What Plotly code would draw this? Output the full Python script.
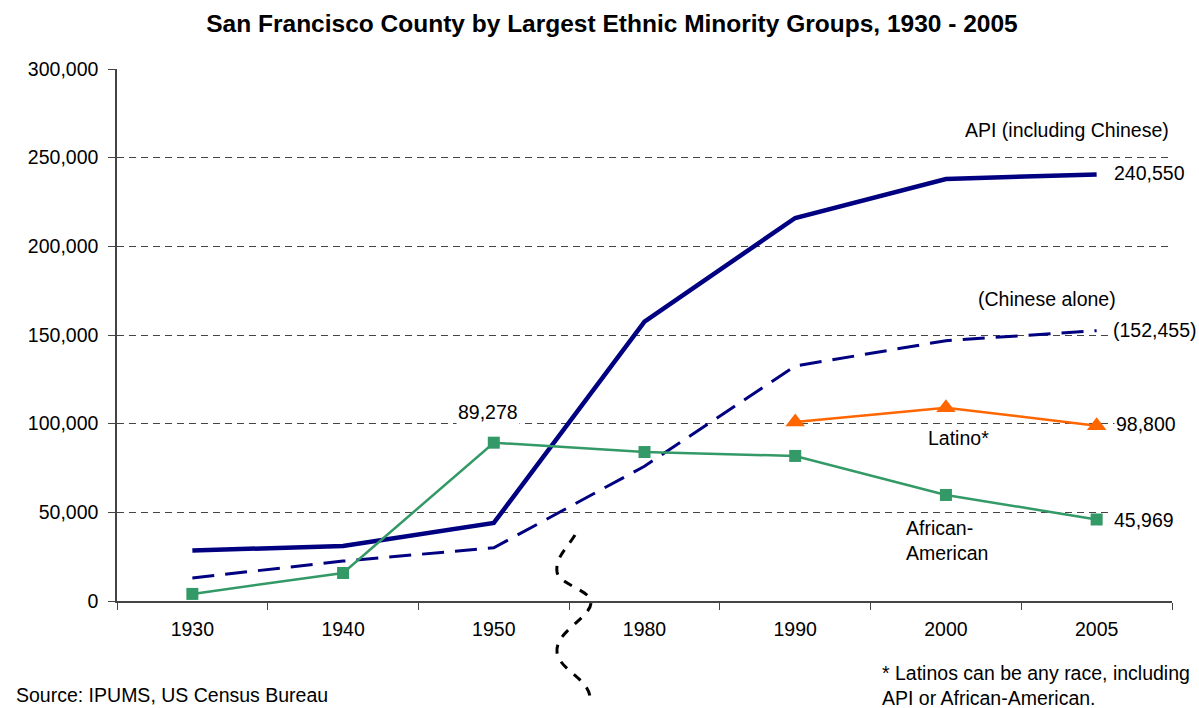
import plotly.graph_objects as go

years = ["1930", "1940", "1950", "1980", "1990", "2000", "2005"]
api = [28500, 31000, 44000, 157500, 216000, 238000, 240550]
chinese = [13000, 22500, 30000, 76000, 132500, 146800, 152455]
african_american = [4000, 15800, 89278, 84000, 81800, 59800, 45969]
latino_years = ["1990", "2000", "2005"]
latino = [100900, 109000, 98800]
y_ticks = [0, 50000, 100000, 150000, 200000, 250000, 300000]

W, H = 1199, 708
L, R, T, B = 117, 27, 69, 107
PW, PH = W - L - R, H - T - B

def px(x):
    return (x - L) / PW

def py(y):
    return (H - B - y) / PH

font = "Liberation Sans, Arial, sans-serif"
FS = 19.5

fig = go.Figure()
fig.add_trace(go.Scatter(x=years, y=api, mode="lines", line=dict(color="#000080", width=4.5), name="API"))
fig.add_trace(go.Scatter(x=years, y=chinese, mode="lines", line=dict(color="#000080", width=3, dash="22px,11px"), name="Chinese"))
fig.add_trace(go.Scatter(x=years, y=african_american, mode="lines+markers",
                         line=dict(color="#339966", width=2.5),
                         marker=dict(symbol="square", size=12, color="#339966"), name="African-American"))
fig.add_trace(go.Scatter(x=latino_years, y=latino, mode="lines+markers",
                         line=dict(color="#FF6600", width=2.5),
                         marker=dict(symbol="triangle-up", size=17, color="#FF6600"), name="Latino"))

# wavy axis-break symbol (decorative)
start = (575, 535)
segments = [
    [(567, 548), (555, 558), (557, 572)],
    [(559, 585), (592, 590), (591, 603)],
    [(590, 618), (555, 632), (557, 652)],
    [(559, 670), (588, 678), (590, 697)],
]
path = "M {},{}".format(px(start[0]), py(start[1]))
for seg in segments:
    path += " C " + " ".join("{},{}".format(px(a), py(b)) for a, b in seg)
fig.add_shape(type="path", path=path, xref="paper", yref="paper",
              line=dict(color="black", width=3, dash="dash"), layer="above")

ann = [
    ("API (including Chinese)", 1067, 130, "center", False),
    ("240,550", 1112, 173, "left", True),
    ("(Chinese alone)", 1047, 299, "center", False),
    ("(152,455)", 1111, 330, "left", True),
    ("98,800", 1114, 424, "left", True),
    ("Latino*", 958, 438, "center", False),
    ("45,969", 1112, 520, "left", True),
    ("African-<br>American", 904, 540, "left", False),
    ("89,278", 488, 412, "center", True),
    ("Source: IPUMS, US Census Bureau", 14, 695, "left", False),
    ("* Latinos can be any race, including<br>API or African-American.", 880, 685, "left", False),
]
annotations = []
for text, x, y, al, bg in ann:
    annotations.append(dict(text=text, x=px(x), y=py(y), xref="paper", yref="paper",
                            xanchor=al, yanchor="middle", showarrow=False, align="left",
                            bgcolor="white" if bg else "rgba(0,0,0,0)", borderpad=1,
                            font=dict(family=font, size=FS, color="black")))

fig.update_layout(
    width=W, height=H,
    margin=dict(l=L, r=R, t=T, b=B),
    paper_bgcolor="white", plot_bgcolor="white",
    showlegend=False,
    title=dict(text="<b>San Francisco County by Largest Ethnic Minority Groups, 1930 - 2005</b>",
               x=px(612), xref="paper", xanchor="center", y=1 - 23 / H, yanchor="middle",
               font=dict(family=font, size=24.5, color="black")),
    font=dict(family=font, size=FS, color="black"),
    annotations=annotations,
    xaxis=dict(type="category", categoryorder="array", categoryarray=years,
               range=[-0.5, 6.5], showgrid=False, showline=True, linecolor="#444", linewidth=1.5,
               ticks="outside", tickson="boundaries", ticklen=7, tickcolor="#444",
               tickfont=dict(family=font, size=FS), ticklabelstandoff=10),
    yaxis=dict(range=[0, 300000], tickvals=y_ticks, tickformat=",d",
               showgrid=True, gridcolor="#444", griddash="7px,5px", gridwidth=1,
               showline=True, linecolor="#444", linewidth=1.5, zeroline=False,
               ticks="outside", ticklen=7, tickcolor="#444",
               tickfont=dict(family=font, size=FS), ticklabelstandoff=6),
)

fig.write_html("out.html", config={"displayModeBar": False},
               post_script="document.body.style.margin='0';")
